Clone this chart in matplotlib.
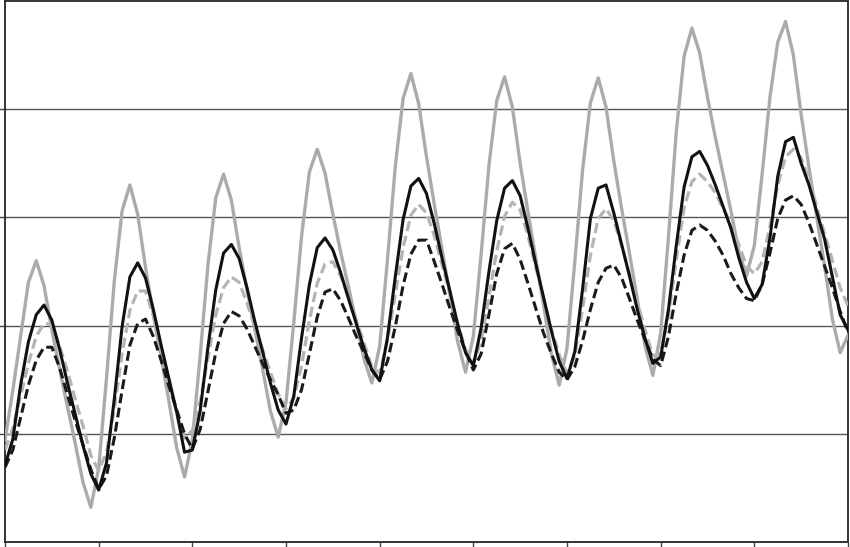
import matplotlib
matplotlib.use("Agg")
import matplotlib.pyplot as plt
import numpy as np

# time axis, hours (2 h steps over 9 days)
hours = np.arange(0, 217, 2)

# series values (arbitrary units, axis 0..50)
gray_solid = [
    9.4, 14.0, 19.0, 24.0, 26.0, 23.7, 19.6, 16.0, 12.5, 9.1, 5.5, 3.2,
    6.8, 15.1, 24.1, 30.6, 33.0, 30.3, 25.4, 21.1, 17.1, 13.0, 8.7, 6.0,
    9.4, 17.2, 25.6, 31.8, 34.0, 31.6, 27.2, 23.3, 19.7, 16.0, 12.1, 9.7,
    12.9, 20.3, 28.3, 34.2, 36.3, 34.1, 30.3, 26.8, 23.6, 20.3, 16.9, 14.7,
    18.1, 26.1, 34.7, 41.0, 43.3, 40.5, 35.6, 31.2, 27.0, 22.9, 18.5, 15.7,
    19.0, 26.6, 34.8, 40.8, 43.0, 40.2, 35.0, 30.5, 26.2, 21.9, 17.4, 14.5,
    17.9, 25.9, 34.4, 40.6, 42.9, 40.2, 35.2, 30.8, 26.7, 22.5, 18.1, 15.4,
    19.3, 28.2, 37.9, 44.9, 47.5, 45.2, 41.1, 37.4, 34.0, 30.6, 26.9, 24.6,
    27.4, 34.0, 41.1, 46.2, 48.1, 45.0, 39.5, 34.6, 30.0, 25.5, 20.6, 17.5,
    19.1,
]
black_solid = [
    7.1, 9.5, 14.5, 18.5, 21.0, 21.9, 20.5, 17.8, 14.7, 11.8, 8.9, 6.3,
    4.8, 7.3, 13.2, 19.9, 24.5, 25.8, 24.4, 21.5, 18.2, 15.1, 12.0, 8.3,
    8.5, 12.1, 18.0, 23.3, 26.7, 27.5, 26.2, 23.5, 20.4, 17.6, 14.7, 12.2,
    10.9, 13.5, 18.9, 23.8, 27.2, 28.1, 27.0, 24.9, 22.5, 20.2, 17.9, 15.9,
    14.9, 18.9, 24.5, 29.8, 32.9, 33.6, 32.2, 29.4, 26.2, 23.2, 20.1, 17.5,
    16.3, 19.8, 25.0, 29.7, 32.7, 33.4, 32.0, 29.0, 25.7, 22.6, 19.5, 16.7,
    15.1, 17.6, 23.4, 29.9, 32.7, 33.0, 30.4, 27.5, 24.6, 21.5, 18.8, 16.5,
    17.1, 21.5, 27.4, 32.8, 35.6, 36.1, 34.8, 33.0, 31.0, 29.0, 26.3, 24.0,
    22.5, 23.8, 28.1, 33.8, 37.0, 37.4, 35.0, 33.0, 30.5, 28.0, 24.5, 21.0,
    19.6,
]
gray_dashed = [
    8.5, 10.5, 13.5, 16.5, 19.0, 20.2, 20.1, 18.1, 15.8, 13.2, 10.7, 8.0,
    6.6, 8.3, 12.3, 17.4, 21.4, 23.2, 23.2, 20.9, 17.8, 14.7, 11.9, 9.6,
    10.3, 13.0, 17.0, 21.0, 23.5, 24.5, 24.0, 22.1, 19.9, 17.8, 15.7, 13.7,
    12.3, 13.3, 16.3, 20.5, 23.9, 25.7, 25.9, 24.6, 22.6, 20.5, 18.4, 16.2,
    15.6, 18.6, 22.9, 27.2, 30.2, 31.2, 30.4, 28.3, 25.6, 22.9, 20.2, 17.8,
    16.5, 18.6, 22.7, 26.9, 30.1, 31.4, 30.7, 28.3, 25.4, 22.5, 19.7, 17.3,
    15.6, 17.2, 21.6, 26.5, 29.9, 30.8, 29.7, 27.4, 24.8, 22.2, 19.6, 17.2,
    17.4, 20.9, 26.1, 30.9, 33.3, 34.0, 33.3, 32.3, 30.8, 29.5, 27.5, 25.5,
    24.8, 25.9, 29.2, 33.0, 35.6, 36.3, 35.5, 33.5, 31.0, 28.5, 26.0, 23.5,
    21.8,
]
black_dashed = [
    6.9, 8.5, 11.5, 14.5, 16.8, 18.0, 18.0, 16.1, 13.6, 11.2, 9.0, 6.7,
    4.9, 6.1, 9.6, 14.0, 18.2, 20.2, 20.6, 19.0, 16.8, 14.4, 12.2, 10.0,
    8.6, 10.4, 13.9, 17.5, 20.2, 21.3, 20.9, 19.7, 18.1, 16.5, 15.0, 13.6,
    11.9, 12.2, 14.1, 17.4, 20.8, 23.1, 23.4, 22.3, 20.7, 19.0, 17.5, 15.9,
    15.0, 16.7, 19.9, 23.7, 26.6, 27.9, 27.9, 25.9, 23.8, 21.6, 19.5, 17.6,
    15.9, 17.4, 21.0, 24.8, 27.1, 27.6, 26.1, 23.9, 21.6, 19.3, 17.4, 15.7,
    15.0, 16.2, 18.6, 21.5, 24.0, 25.3, 25.6, 24.4, 22.5, 20.5, 18.7, 16.9,
    16.3, 19.0, 23.0, 26.5, 28.8, 29.3, 28.8, 27.8, 26.5, 24.8, 23.5, 22.5,
    22.3, 23.8, 26.7, 29.9, 31.6, 32.0, 31.2, 29.5, 27.5, 25.5, 23.5, 21.3,
    19.4,
]

day_ticks = np.arange(0, 217, 24)
grid_levels = [10, 20, 30, 40]

fig = plt.figure(figsize=(8.5, 5.47), dpi=100)
ax = fig.add_axes([5 / 850, 5 / 547, 843 / 850, 541 / 547])

common = dict(solid_joinstyle="round", dash_joinstyle="round")
ax.plot(hours, gray_solid, color="#ababab", lw=2.4, zorder=3, **common)
ax.plot(hours, gray_dashed, color="#b4b4b4", lw=2.3, dashes=(3.2, 1.5), zorder=4, **common)
ax.plot(hours, black_dashed, color="#1a1a1a", lw=2.2, dashes=(3.2, 1.5), zorder=5, **common)
ax.plot(hours, black_solid, color="#111111", lw=2.2, zorder=6, **common)

ax.set_xlim(0, 216)
ax.set_ylim(0, 50)
ax.set_xticks(day_ticks)
ax.set_yticks(grid_levels)
ax.set_xticklabels([])
ax.set_yticklabels([])
ax.tick_params(axis="both", direction="out", length=4, width=1, color="#444444")
ax.yaxis.grid(True, color="#555555", lw=1.0, zorder=1)

for side in ["left", "right", "top", "bottom"]:
    ax.spines[side].set_color("#333333")
    ax.spines[side].set_linewidth(1.4)

fig.savefig("out.png", dpi=100)
